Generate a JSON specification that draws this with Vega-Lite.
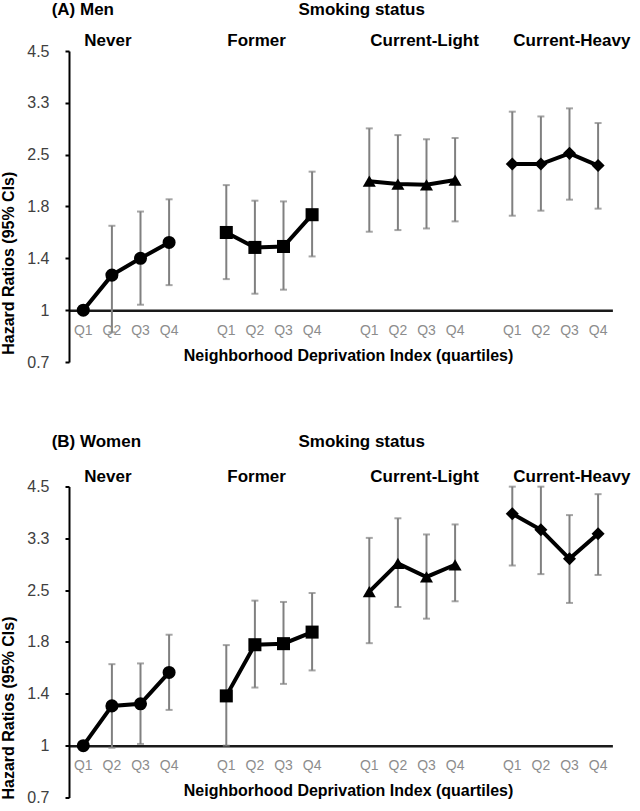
{
  "$schema": "https://vega.github.io/schema/vega-lite/v6.json",
  "padding": {"left": 0, "top": 0, "right": 0, "bottom": 0},
  "spacing": 62.5,
  "config": {
    "font": "Liberation Sans",
    "view": {"stroke": null},
    "axis": {"grid": false}
  },
  "datasets": {
    "men": [
      {"group": "Never", "q": "Q1", "slot": 0, "hr": 1.0, "lo": null, "hi": null},
      {"group": "Never", "q": "Q2", "slot": 1, "hr": 1.225, "lo": 0.88, "hi": 1.63},
      {"group": "Never", "q": "Q3", "slot": 2, "hr": 1.35, "lo": 1.032, "hi": 1.77},
      {"group": "Never", "q": "Q4", "slot": 3, "hr": 1.48, "lo": 1.156, "hi": 1.9},
      {"group": "Former", "q": "Q1", "slot": 5, "hr": 1.568, "lo": 1.197, "hi": 2.063},
      {"group": "Former", "q": "Q2", "slot": 6, "hr": 1.438, "lo": 1.1, "hi": 1.885},
      {"group": "Former", "q": "Q3", "slot": 7, "hr": 1.446, "lo": 1.126, "hi": 1.877},
      {"group": "Former", "q": "Q4", "slot": 8, "hr": 1.738, "lo": 1.365, "hi": 2.23},
      {"group": "Current-Light", "q": "Q1", "slot": 10, "hr": 2.11, "lo": 1.575, "hi": 2.865},
      {"group": "Current-Light", "q": "Q2", "slot": 11, "hr": 2.075, "lo": 1.59, "hi": 2.756},
      {"group": "Current-Light", "q": "Q3", "slot": 12, "hr": 2.066, "lo": 1.605, "hi": 2.69},
      {"group": "Current-Light", "q": "Q4", "slot": 13, "hr": 2.124, "lo": 1.672, "hi": 2.71},
      {"group": "Current-Heavy", "q": "Q1", "slot": 15, "hr": 2.33, "lo": 1.728, "hi": 3.156},
      {"group": "Current-Heavy", "q": "Q2", "slot": 16, "hr": 2.33, "lo": 1.779, "hi": 3.07},
      {"group": "Current-Heavy", "q": "Q3", "slot": 17, "hr": 2.479, "lo": 1.896, "hi": 3.217},
      {"group": "Current-Heavy", "q": "Q4", "slot": 18, "hr": 2.31, "lo": 1.8, "hi": 2.955}
    ],
    "women": [
      {"group": "Never", "q": "Q1", "slot": 0, "hr": 1.0, "lo": null, "hi": null},
      {"group": "Never", "q": "Q2", "slot": 1, "hr": 1.259, "lo": 0.988, "hi": 1.603},
      {"group": "Never", "q": "Q3", "slot": 2, "hr": 1.274, "lo": 1.01, "hi": 1.61},
      {"group": "Never", "q": "Q4", "slot": 3, "hr": 1.528, "lo": 1.23, "hi": 1.901},
      {"group": "Former", "q": "Q1", "slot": 5, "hr": 1.334, "lo": 1.0, "hi": 1.79},
      {"group": "Former", "q": "Q2", "slot": 6, "hr": 1.794, "lo": 1.4, "hi": 2.316},
      {"group": "Former", "q": "Q3", "slot": 7, "hr": 1.805, "lo": 1.43, "hi": 2.298},
      {"group": "Former", "q": "Q4", "slot": 8, "hr": 1.93, "lo": 1.546, "hi": 2.42},
      {"group": "Current-Light", "q": "Q1", "slot": 10, "hr": 2.44, "lo": 1.81, "hi": 3.33},
      {"group": "Current-Light", "q": "Q2", "slot": 11, "hr": 2.872, "lo": 2.232, "hi": 3.73},
      {"group": "Current-Light", "q": "Q3", "slot": 12, "hr": 2.656, "lo": 2.086, "hi": 3.397},
      {"group": "Current-Light", "q": "Q4", "slot": 13, "hr": 2.85, "lo": 2.307, "hi": 3.6},
      {"group": "Current-Heavy", "q": "Q1", "slot": 15, "hr": 3.83, "lo": 2.838, "hi": 4.48},
      {"group": "Current-Heavy", "q": "Q2", "slot": 16, "hr": 3.49, "lo": 2.7, "hi": 4.48},
      {"group": "Current-Heavy", "q": "Q3", "slot": 17, "hr": 2.95, "lo": 2.285, "hi": 3.8},
      {"group": "Current-Heavy", "q": "Q4", "slot": 18, "hr": 3.41, "lo": 2.687, "hi": 4.29}
    ],
    "groups": [
      {"group": "Never", "slot": 0},
      {"group": "Former", "slot": 5},
      {"group": "Current-Light", "slot": 10},
      {"group": "Current-Heavy", "slot": 15}
    ]
  },
  "vconcat": [
    {
      "width": 543.4,
      "height": 311,
      "layer": [
        {
          "data": {"name": "men"},
          "transform": [{"filter": "isValid(datum.lo)"}],
          "mark": {"type": "rule", "color": "#808080", "strokeWidth": 2},
          "encoding": {
            "x": {"field": "slot", "type": "quantitative", "scale": {"domain": [-0.5, 18.5], "nice": false, "zero": false},
              "axis": {"values": [0,1,2,3,5,6,7,8,10,11,12,13,15,16,17,18], "labels": false, "offset": -51.83, "ticks": false, "domainColor": "#1a1a1a", "domainWidth": 2.5, "title": "Neighborhood Deprivation Index (quartiles)", "titleFontSize": 16, "titleFontWeight": "bold", "titleColor": "#000", "titlePadding": 37, "titleX": 279}},
            "y": {"field": "lo", "type": "quantitative", "scale": {"type": "log", "domain": [0.7407407407, 4.4840334375], "nice": false, "zero": false},
              "axis": {"values": [0.7407407407, 1, 1.35, 1.8225, 2.460375, 3.32150625, 4.4840334375], "format": ".1~f", "labelOverlap": false, "domainColor": "#000", "domainWidth": 2, "tickColor": "#000", "tickWidth": 2, "tickSize": 4, "labelFontSize": 16, "labelColor": "#404040", "labelPadding": 16, "title": "Hazard Ratios (95% CIs)", "titleFontSize": 16, "titleFontWeight": "bold", "titleColor": "#000", "titleX": -60.8, "titleY": 211.7, "titleAngle": -90, "titleAlign": "center", "titleBaseline": "middle"}},
            "y2": {"field": "hi"}
          }
        },
        {
          "data": {"name": "men"},
          "transform": [{"filter": "isValid(datum.lo)"}],
          "mark": {"type": "tick", "orient": "horizontal", "color": "#808080", "size": 7, "thickness": 2},
          "encoding": {"x": {"field": "slot", "type": "quantitative"}, "y": {"field": "lo", "type": "quantitative"}}
        },
        {
          "data": {"name": "men"},
          "transform": [{"filter": "isValid(datum.hi)"}],
          "mark": {"type": "tick", "orient": "horizontal", "color": "#808080", "size": 7, "thickness": 2},
          "encoding": {"x": {"field": "slot", "type": "quantitative"}, "y": {"field": "hi", "type": "quantitative"}}
        },
        {
          "data": {"name": "men"},
          "mark": {"type": "line", "color": "#000", "strokeWidth": 4},
          "encoding": {"x": {"field": "slot", "type": "quantitative"}, "y": {"field": "hr", "type": "quantitative"}, "detail": {"field": "group"}}
        },
        {
          "data": {"name": "men"},
          "mark": {"type": "point", "filled": true, "color": "#000", "opacity": 1, "size": 170},
          "encoding": {"x": {"field": "slot", "type": "quantitative"}, "y": {"field": "hr", "type": "quantitative"},
            "shape": {"field": "group", "type": "nominal", "scale": {"domain": ["Never", "Former", "Current-Light", "Current-Heavy"], "range": ["circle", "square", "triangle-up", "diamond"]}, "legend": null}}
        },
        {
          "data": {"name": "men"},
          "mark": {"type": "text", "align": "center", "baseline": "middle", "fontSize": 14, "color": "#8c8c8c", "dy": 20.5},
          "encoding": {"x": {"field": "slot", "type": "quantitative"}, "y": {"datum": 1}, "text": {"field": "q"}}
        },
        {
          "data": {"name": "groups"},
          "mark": {"type": "text", "align": "left", "baseline": "middle", "fontSize": 17, "fontWeight": "bold", "color": "#000", "dy": -10.3, "dx": 1},
          "encoding": {"x": {"field": "slot", "type": "quantitative"}, "y": {"datum": 4.4840334375}, "text": {"field": "group"}}
        },
        {
          "data": {"values": [{"label": "(A) Men"}]},
          "mark": {"type": "text", "align": "left", "baseline": "middle", "fontSize": 17, "fontWeight": "bold", "color": "#000", "dy": -41.3, "dx": -17.3},
          "encoding": {"x": {"datum": -0.5}, "y": {"datum": 4.4840334375}, "text": {"field": "label"}}
        },
        {
          "data": {"values": [{"label": "Smoking status"}]},
          "mark": {"type": "text", "align": "center", "baseline": "middle", "fontSize": 17, "fontWeight": "bold", "color": "#000", "dy": -41.3, "dx": 21},
          "encoding": {"x": {"datum": 9}, "y": {"datum": 4.4840334375}, "text": {"field": "label"}}
        }
      ]
    },
    {
      "width": 543.4,
      "height": 311,
      "layer": [
        {
          "data": {"name": "women"},
          "transform": [{"filter": "isValid(datum.lo)"}],
          "mark": {"type": "rule", "color": "#808080", "strokeWidth": 2},
          "encoding": {
            "x": {"field": "slot", "type": "quantitative", "scale": {"domain": [-0.5, 18.5], "nice": false, "zero": false},
              "axis": {"values": [0,1,2,3,5,6,7,8,10,11,12,13,15,16,17,18], "labels": false, "offset": -51.83, "ticks": false, "domainColor": "#1a1a1a", "domainWidth": 2.5, "title": "Neighborhood Deprivation Index (quartiles)", "titleFontSize": 16, "titleFontWeight": "bold", "titleColor": "#000", "titlePadding": 37, "titleX": 279}},
            "y": {"field": "lo", "type": "quantitative", "scale": {"type": "log", "domain": [0.7407407407, 4.4840334375], "nice": false, "zero": false},
              "axis": {"values": [0.7407407407, 1, 1.35, 1.8225, 2.460375, 3.32150625, 4.4840334375], "format": ".1~f", "labelOverlap": false, "domainColor": "#000", "domainWidth": 2, "tickColor": "#000", "tickWidth": 2, "tickSize": 4, "labelFontSize": 16, "labelColor": "#404040", "labelPadding": 16, "title": "Hazard Ratios (95% CIs)", "titleFontSize": 16, "titleFontWeight": "bold", "titleColor": "#000", "titleX": -60.8, "titleY": 221, "titleAngle": -90, "titleAlign": "center", "titleBaseline": "middle"}},
            "y2": {"field": "hi"}
          }
        },
        {
          "data": {"name": "women"},
          "transform": [{"filter": "isValid(datum.lo)"}],
          "mark": {"type": "tick", "orient": "horizontal", "color": "#808080", "size": 7, "thickness": 2},
          "encoding": {"x": {"field": "slot", "type": "quantitative"}, "y": {"field": "lo", "type": "quantitative"}}
        },
        {
          "data": {"name": "women"},
          "transform": [{"filter": "isValid(datum.hi)"}],
          "mark": {"type": "tick", "orient": "horizontal", "color": "#808080", "size": 7, "thickness": 2},
          "encoding": {"x": {"field": "slot", "type": "quantitative"}, "y": {"field": "hi", "type": "quantitative"}}
        },
        {
          "data": {"name": "women"},
          "mark": {"type": "line", "color": "#000", "strokeWidth": 4},
          "encoding": {"x": {"field": "slot", "type": "quantitative"}, "y": {"field": "hr", "type": "quantitative"}, "detail": {"field": "group"}}
        },
        {
          "data": {"name": "women"},
          "mark": {"type": "point", "filled": true, "color": "#000", "opacity": 1, "size": 170},
          "encoding": {"x": {"field": "slot", "type": "quantitative"}, "y": {"field": "hr", "type": "quantitative"},
            "shape": {"field": "group", "type": "nominal", "scale": {"domain": ["Never", "Former", "Current-Light", "Current-Heavy"], "range": ["circle", "square", "triangle-up", "diamond"]}, "legend": null}}
        },
        {
          "data": {"name": "women"},
          "mark": {"type": "text", "align": "center", "baseline": "middle", "fontSize": 14, "color": "#8c8c8c", "dy": 20.5},
          "encoding": {"x": {"field": "slot", "type": "quantitative"}, "y": {"datum": 1}, "text": {"field": "q"}}
        },
        {
          "data": {"name": "groups"},
          "mark": {"type": "text", "align": "left", "baseline": "middle", "fontSize": 17, "fontWeight": "bold", "color": "#000", "dy": -9.3, "dx": 1},
          "encoding": {"x": {"field": "slot", "type": "quantitative"}, "y": {"datum": 4.4840334375}, "text": {"field": "group"}}
        },
        {
          "data": {"values": [{"label": "(B) Women"}]},
          "mark": {"type": "text", "align": "left", "baseline": "middle", "fontSize": 17, "fontWeight": "bold", "color": "#000", "dy": -44.3, "dx": -17.3},
          "encoding": {"x": {"datum": -0.5}, "y": {"datum": 4.4840334375}, "text": {"field": "label"}}
        },
        {
          "data": {"values": [{"label": "Smoking status"}]},
          "mark": {"type": "text", "align": "center", "baseline": "middle", "fontSize": 17, "fontWeight": "bold", "color": "#000", "dy": -44.3, "dx": 21},
          "encoding": {"x": {"datum": 9}, "y": {"datum": 4.4840334375}, "text": {"field": "label"}}
        }
      ]
    }
  ]
}
